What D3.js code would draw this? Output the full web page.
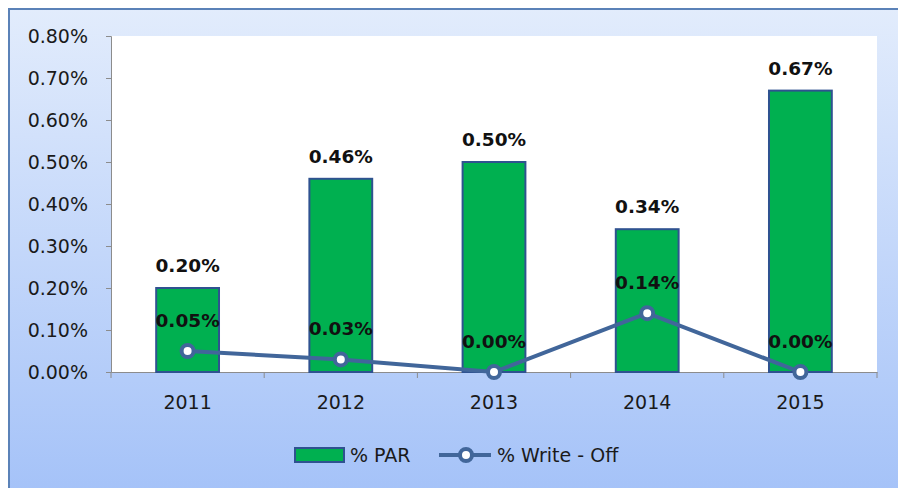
<!DOCTYPE html>
<html>
<head>
<meta charset="utf-8">
<script src="https://cdn.jsdelivr.net/npm/d3@7"></script>
<style>
  body { margin: 0; background: #fff; }
  svg { display: block; }
</style>
</head>
<body>
<div id="chart"></div>
<script>
(function() {
    // Chart data
    var years = ["2011", "2012", "2013", "2014", "2015"];
    var parValues = [0.20, 0.46, 0.50, 0.34, 0.67];
    var writeOffValues = [0.05, 0.03, 0.00, 0.14, 0.00];
    var yTicks = [0, 0.1, 0.2, 0.3, 0.4, 0.5, 0.6, 0.7, 0.8];
    var seriesNames = ["% PAR", "% Write - Off"];

    var W = 898, H = 488;
    var plot = {left: 111, right: 877, top: 36, bottom: 372};

    var svg = d3.select("#chart").append("svg")
        .attr("width", W)
        .attr("height", H);

    // Background gradient
    var defs = svg.append("defs");
    var grad = defs.append("linearGradient")
        .attr("id", "bg")
        .attr("x1", 0).attr("y1", 0).attr("x2", 0).attr("y2", 1);
    grad.append("stop").attr("offset", "0%").attr("stop-color", "#e2ecfc");
    grad.append("stop").attr("offset", "100%").attr("stop-color", "#a3c1f8");

    svg.append("rect")
        .attr("x", 9).attr("y", 9)
        .attr("width", W + 10).attr("height", H + 10)
        .attr("fill", "url(#bg)")
        .attr("stroke", "#5b82b8")
        .attr("stroke-width", 2);

    // Plot area
    svg.append("rect")
        .attr("x", plot.left).attr("y", plot.top)
        .attr("width", plot.right - plot.left)
        .attr("height", plot.bottom - plot.top)
        .attr("fill", "#fff");

    // Scales
    var x = d3.scaleBand().domain(years).range([plot.left, plot.right]);
    var y = d3.scaleLinear().domain([0, 0.8]).range([plot.bottom, plot.top]);

    // Y axis
    var yAxis = svg.append("g")
        .attr("transform", "translate(" + plot.left + ",0)")
        .call(d3.axisLeft(y).tickValues(yTicks).tickSize(5).tickPadding(18)
            .tickFormat(function(d) { return d.toFixed(2) + "%"; }));
    yAxis.selectAll("text")
        .attr("font-family", "DejaVu Sans, sans-serif")
        .attr("font-size", "19px")
        .attr("fill", "#1a1a1a");

    // X axis
    var xAxis = svg.append("g")
        .attr("transform", "translate(0," + plot.bottom + ")")
        .call(d3.axisBottom(x).tickSize(0).tickPadding(24));
    xAxis.selectAll("text")
        .attr("font-family", "DejaVu Sans, sans-serif")
        .attr("font-size", "19px")
        .attr("fill", "#1a1a1a");

    // Category boundary ticks on the x axis
    var bounds = years.map(function(d) { return x(d); }).concat([plot.right]);
    xAxis.selectAll(".bound")
        .data(bounds)
        .enter().append("line")
        .attr("x1", function(d) { return d; })
        .attr("x2", function(d) { return d; })
        .attr("y1", 0).attr("y2", 6)
        .attr("stroke", "#8c8c8c");

    svg.selectAll(".domain").attr("stroke", "#8c8c8c");
    svg.selectAll(".tick line").attr("stroke", "#8c8c8c");

    // Bars
    var barW = x.bandwidth() * 0.41;
    svg.selectAll(".bar")
        .data(parValues)
        .enter().append("rect")
        .attr("class", "bar")
        .attr("x", function(d, i) { return x(years[i]) + x.bandwidth() / 2 - barW / 2; })
        .attr("y", function(d) { return y(d); })
        .attr("width", barW)
        .attr("height", function(d) { return plot.bottom - y(d); })
        .attr("fill", "#00b050")
        .attr("stroke", "#2f5290")
        .attr("stroke-width", 2);

    // Bar labels
    svg.selectAll(".barlabel")
        .data(parValues)
        .enter().append("text")
        .attr("x", function(d, i) { return x(years[i]) + x.bandwidth() / 2; })
        .attr("y", function(d) { return y(d) - 16; })
        .attr("text-anchor", "middle")
        .attr("font-family", "DejaVu Sans, sans-serif")
        .attr("font-weight", "bold")
        .attr("font-size", "18.5px")
        .attr("fill", "#111")
        .text(function(d) { return d.toFixed(2) + "%"; });

    // Write-off line
    var line = d3.line()
        .x(function(d, i) { return x(years[i]) + x.bandwidth() / 2; })
        .y(function(d) { return y(d); });

    svg.append("path")
        .datum(writeOffValues)
        .attr("d", line)
        .attr("fill", "none")
        .attr("stroke", "#41669a")
        .attr("stroke-width", 4);

    svg.selectAll(".dot")
        .data(writeOffValues)
        .enter().append("circle")
        .attr("cx", function(d, i) { return x(years[i]) + x.bandwidth() / 2; })
        .attr("cy", function(d) { return y(d); })
        .attr("r", 6)
        .attr("fill", "#fff")
        .attr("stroke", "#41669a")
        .attr("stroke-width", 4);

    // Line labels
    svg.selectAll(".linelabel")
        .data(writeOffValues)
        .enter().append("text")
        .attr("x", function(d, i) { return x(years[i]) + x.bandwidth() / 2; })
        .attr("y", function(d) { return y(d) - 24; })
        .attr("text-anchor", "middle")
        .attr("font-family", "DejaVu Sans, sans-serif")
        .attr("font-weight", "bold")
        .attr("font-size", "18.5px")
        .attr("fill", "#111")
        .text(function(d) { return d.toFixed(2) + "%"; });

    // Legend
    var legend = svg.append("g").attr("transform", "translate(0,455)");
    legend.append("rect")
        .attr("x", 295).attr("y", -7)
        .attr("width", 49).attr("height", 14)
        .attr("fill", "#00b050")
        .attr("stroke", "#2f5290")
        .attr("stroke-width", 2);
    legend.append("text")
        .attr("x", 350).attr("y", 7)
        .attr("font-family", "DejaVu Sans, sans-serif")
        .attr("font-size", "19px")
        .attr("fill", "#1a1a1a")
        .text(seriesNames[0]);
    legend.append("line")
        .attr("x1", 439).attr("x2", 491)
        .attr("y1", 0).attr("y2", 0)
        .attr("stroke", "#41669a")
        .attr("stroke-width", 4);
    legend.append("circle")
        .attr("cx", 466).attr("cy", 0).attr("r", 6)
        .attr("fill", "#fff")
        .attr("stroke", "#41669a")
        .attr("stroke-width", 4);
    legend.append("text")
        .attr("x", 497).attr("y", 7)
        .attr("font-family", "DejaVu Sans, sans-serif")
        .attr("font-size", "19px")
        .attr("fill", "#1a1a1a")
        .text(seriesNames[1]);
})();
</script>
</body>
</html>
